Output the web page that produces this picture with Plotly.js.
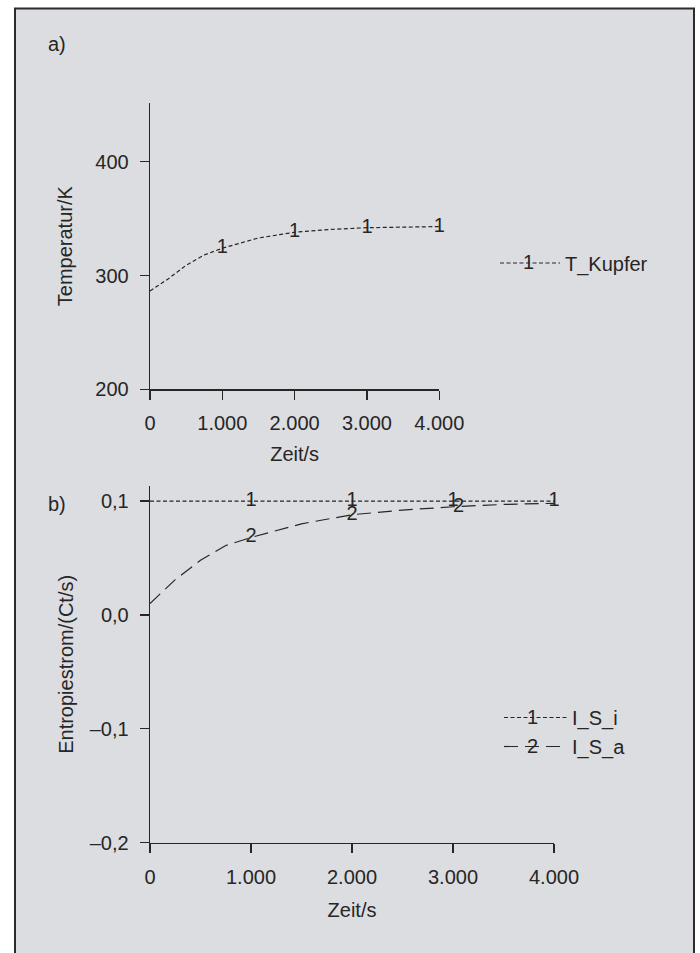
<!DOCTYPE html>
<html><head><meta charset="utf-8">
<script src="https://cdn.plot.ly/plotly-3.0.1.min.js"></script>
<style>html,body{margin:0;padding:0;background:#fff;}#chart{width:700px;height:953px;}</style>
</head><body><div id="chart"></div>
<script>
// ---- data ----
const timeA = [0, 250, 500, 750, 1000, 1500, 2000, 2500, 3000, 3500, 4000];
const tKupfer = [286.4, 297, 309, 318, 324, 333, 338, 340.5, 342, 342.6, 343];
const timeB = [0, 250, 500, 750, 1000, 1500, 2000, 2500, 3000, 3500, 4000];
const isI = [0.1, 0.1, 0.1, 0.1, 0.1, 0.1, 0.1, 0.1, 0.1, 0.1, 0.1];
const isA = [0.010, 0.031, 0.048, 0.061, 0.068, 0.080, 0.088, 0.092, 0.095, 0.097, 0.098];
const labelTimes1 = [1000, 2000, 3000, 4000];
const labelTimes2 = [1000, 2000, 3000];
const xTickVals = [0, 1000, 2000, 3000, 4000];
const xTickText = ['0', '1.000', '2.000', '3.000', '4.000'];
const yTickValsA = [200, 300, 400];
const yTickTextA = ['200', '300', '400'];
const yTickValsB = [-0.2, -0.1, 0, 0.1];
const yTickTextB = ['\u20130,2', '\u20130,1', '0,0', '0,1'];
const names = ['T_Kupfer', 'I_S_i', 'I_S_a'];

// ---- helpers ----
const W = 700, H = 953;
const px = v => v / W;
const py = v => 1 - v / H;
const pick = (xs, ys, at) => at.map(t => ys[xs.indexOf(t)]);
const INK = '#262626';
const FONT = 'Liberation Sans, Arial, Helvetica, sans-serif';
const FS = 20;
const dotDash = '4px,2.5px';
const longDash = '14px,7px';
const f = () => ({family: FONT, size: FS, color: INK});

const traces = [
  {x: timeA, y: tKupfer, mode: 'lines', name: names[0], xaxis: 'x', yaxis: 'y',
   line: {color: INK, width: 1.2, dash: dotDash}, legend: 'legend'},
  {x: labelTimes1, y: pick(timeA, tKupfer, labelTimes1), mode: 'text', text: labelTimes1.map(() => '1'),
   textposition: 'middle center', textfont: f(),
   xaxis: 'x', yaxis: 'y', showlegend: false, cliponaxis: false},
  {x: timeB, y: isI, mode: 'lines', name: names[1], xaxis: 'x2', yaxis: 'y2',
   line: {color: INK, width: 1.2, dash: dotDash}, legend: 'legend2'},
  {x: timeB, y: isA, mode: 'lines', name: names[2], xaxis: 'x2', yaxis: 'y2',
   line: {color: INK, width: 1.2, dash: longDash}, legend: 'legend2'},
  {x: labelTimes1, y: pick(timeB, isI, labelTimes1), mode: 'text', text: labelTimes1.map(() => '1'),
   textposition: 'middle center', textfont: f(),
   xaxis: 'x2', yaxis: 'y2', showlegend: false, cliponaxis: false},
  {x: labelTimes2, y: pick(timeB, isA, labelTimes2), mode: 'text', text: labelTimes2.map(() => '2'),
   textposition: ['middle center', 'middle center', 'middle right'], textfont: f(),
   xaxis: 'x2', yaxis: 'y2', showlegend: false, cliponaxis: false}
];

const axisCommon = {
  showline: true, linecolor: INK, linewidth: 1.3, ticks: 'outside', ticklen: 9, tickwidth: 1.3,
  tickcolor: INK, showgrid: false, zeroline: false, tickmode: 'array',
  tickfont: f(), fixedrange: true
};

const layout = {
  width: W, height: H, margin: {l: 0, r: 0, t: 0, b: 0},
  paper_bgcolor: '#ffffff', plot_bgcolor: 'rgba(0,0,0,0)',
  font: f(),
  xaxis: Object.assign({}, axisCommon, {domain: [px(150), px(439.3)], range: [0, 4000], anchor: 'y',
    tickvals: xTickVals, ticktext: xTickText, ticklabelstandoff: 6,
    title: {text: 'Zeit/s', font: f(), standoff: 14}}),
  yaxis: Object.assign({}, axisCommon, {domain: [py(389.3), py(103)], range: [200, 451.6], anchor: 'x',
    tickvals: yTickValsA, ticktext: yTickTextA, ticklabelstandoff: 7,
    title: {text: 'Temperatur/K', font: f(), standoff: 17}}),
  xaxis2: Object.assign({}, axisCommon, {domain: [px(150), px(554)], range: [0, 4000], anchor: 'y2',
    tickvals: xTickVals, ticktext: xTickText, ticklabelstandoff: 7,
    title: {text: 'Zeit/s', font: f(), standoff: 16}}),
  yaxis2: Object.assign({}, axisCommon, {domain: [py(842.7), py(486)], range: [-0.2, 0.1132], anchor: 'x2',
    tickvals: yTickValsB, ticktext: yTickTextB, ticklabelstandoff: 7,
    title: {text: 'Entropiestrom/(Ct/s)', font: f(), standoff: 10}}),
  legend: {x: px(495), xanchor: 'left', y: py(263), yanchor: 'middle', bgcolor: 'rgba(0,0,0,0)',
    font: f(), itemwidth: 60},
  legend2: {x: px(499), xanchor: 'left', y: py(732), yanchor: 'middle', bgcolor: 'rgba(0,0,0,0)',
    font: f(), itemwidth: 63, tracegroupgap: 0},
  shapes: [
    {type: 'rect', xref: 'paper', yref: 'paper', x0: px(15), x1: px(694), y0: -0.05, y1: py(8.5),
     fillcolor: '#dcdde0', line: {color: '#2b2b2b', width: 2}, layer: 'below'}
  ],
  annotations: [
    {text: 'a)', xref: 'paper', yref: 'paper', x: px(46), y: py(44), xanchor: 'left', yanchor: 'middle', showarrow: false, font: f()},
    {text: 'b)', xref: 'paper', yref: 'paper', x: px(46), y: py(504), xanchor: 'left', yanchor: 'middle', showarrow: false, font: f()},
    {text: '1', xref: 'paper', yref: 'paper', x: px(528), y: py(262), xanchor: 'center', yanchor: 'middle', showarrow: false, font: f()},
    {text: '1', xref: 'paper', yref: 'paper', x: px(532), y: py(717), xanchor: 'center', yanchor: 'middle', showarrow: false, font: f()},
    {text: '2', xref: 'paper', yref: 'paper', x: px(532), y: py(746), xanchor: 'center', yanchor: 'middle', showarrow: false, font: f()}
  ]
};

Plotly.newPlot('chart', traces, layout, {staticPlot: true, displayModeBar: false});
</script>
</body></html>
